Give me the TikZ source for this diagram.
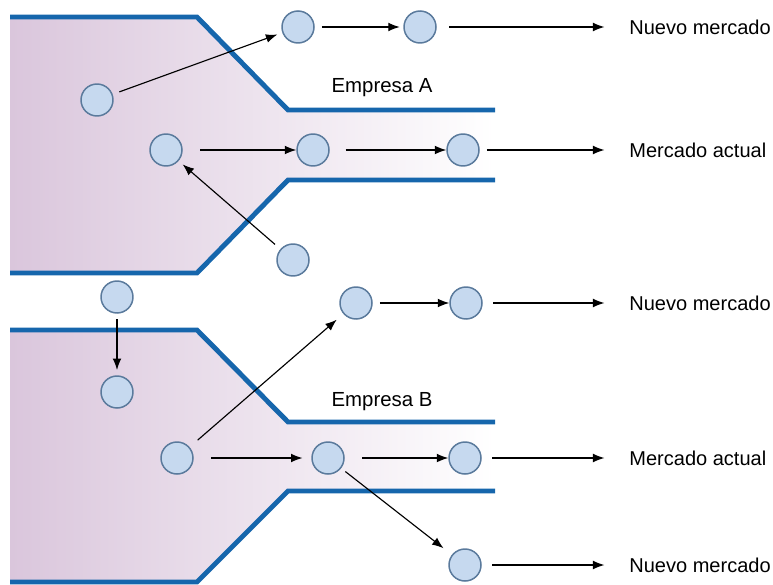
\documentclass[tikz,border=0pt]{standalone}
\usepackage{fontspec}
\setmainfont{Liberation Sans}
\usetikzlibrary{calc, arrows.meta}

\definecolor{wallblue}{HTML}{1666AC}
\definecolor{dotfill}{HTML}{C6D9EF}
\definecolor{dotline}{HTML}{5A7A9C}
\definecolor{firmpink}{HTML}{DAC6DC}

\tikzset{
    dot/.style={circle, draw=dotline, fill=dotfill, line width=0.85pt, minimum size=0.64cm, inner sep=0pt},
    wall/.style={wallblue, line width=2.8pt},
    flow/.style={-{Latex[length=6.5pt, width=5pt]}, line width=0.65pt, shorten <=4pt, shorten >=2pt},
    market/.style={anchor=west, inner sep=0pt, font=\fontsize{11.4}{14}\selectfont},
}

\begin{document}
\begin{tikzpicture}[x=0.02cm, y=-0.02cm]
    \useasboundingbox (0,0) rectangle (773,584);

    % Empresa A
    \shade[left color=firmpink, right color=white] (10,17) -- (197,17) -- (288,110) -- (495,110)
        -- (495,180) -- (288,180) -- (197,272) -- (10,272) -- cycle;
    \draw[wall] (10,17) -- (197,17) -- (288,110) -- (495,110);
    \draw[wall] (10,273) -- (197,273) -- (288,180) -- (495,180);
    \node (firmA) at (382,88) [font=\fontsize{11.6}{14}\selectfont] {Empresa A};

    % Empresa B
    \shade[left color=firmpink, right color=white] (10,330) -- (197,330) -- (288,422) -- (495,422)
        -- (495,491) -- (288,491) -- (197,584) -- (10,584) -- cycle;
    \draw[wall] (10,330) -- (197,330) -- (288,422) -- (495,422);
    \draw[wall] (10,582) -- (197,582) -- (288,491) -- (495,491);
    \node (firmB) at (382,402) [font=\fontsize{11.6}{14}\selectfont] {Empresa B};

    \node (a1) at (97,100) [dot] {};
    \node (a2) at (298,27) [dot] {};
    \node (a3) at ($(a2) + (122,0)$) [dot] {};
    \node (a4) at (166,150) [dot] {};
    \node (a5) at ($(a4) + (147,0)$) [dot] {};
    \node (a6) at ($(a4) + (297,0)$) [dot] {};
    \node (a7) at (293,260) [dot] {};

    \node (m1) at (117,297) [dot] {};
    \node (m2) at ($(m1) + (0,95)$) [dot] {};

    \node (b1) at (356,303) [dot] {};
    \node (b2) at ($(b1) + (110,0)$) [dot] {};
    \node (b3) at (177,458) [dot] {};
    \node (b4) at ($(b3) + (151,0)$) [dot] {};
    \node (b5) at ($(b3) + (288,0)$) [dot] {};
    \node (b6) at ($(b5) + (0,107)$) [dot] {};

    \node (newA) at (629,27) [market] {Nuevo mercado};
    \node (nowA) at (629,150) [market] {Mercado actual};
    \node (newB) at (629,303) [market] {Nuevo mercado};
    \node (nowB) at (629,458) [market] {Mercado actual};
    \node (newC) at (629,565) [market] {Nuevo mercado};

    \draw (a1) edge[flow, shorten >=3pt] (a2);
    \draw (a2) edge[flow] (a3);
    \draw (a3) edge[flow, shorten <=7pt, shorten >=14pt] (newA.west);
    \draw (a4) edge[flow, shorten <=10pt, shorten >=0pt] (a5);
    \draw (a5) edge[flow, shorten <=9pt, shorten >=0pt] (a6);
    \draw (a6) edge[flow, shorten >=14pt] (nowA.west);
    \draw (a7) edge[flow, shorten >=3pt] (a4);

    \draw (m1) edge[flow, shorten <=3pt, shorten >=3pt] (m2);

    \draw (b3) edge[flow, shorten <=6pt, shorten >=5pt] (b1);
    \draw (b1) edge[flow, shorten >=0pt] (b2);
    \draw (b2) edge[flow, shorten <=6pt, shorten >=14pt] (newB.west);
    \draw (b3) edge[flow, shorten <=10pt, shorten >=5pt] (b4);
    \draw (b4) edge[flow, shorten <=10pt, shorten >=0pt] (b5);
    \draw (b5) edge[flow, shorten <=6pt, shorten >=14pt] (nowB.west);
    \draw (b4) edge[flow, shorten <=3pt, shorten >=6pt] (b6);
    \draw (b6) edge[flow, shorten <=6pt, shorten >=14pt] (newC.west);
\end{tikzpicture}
\end{document}
